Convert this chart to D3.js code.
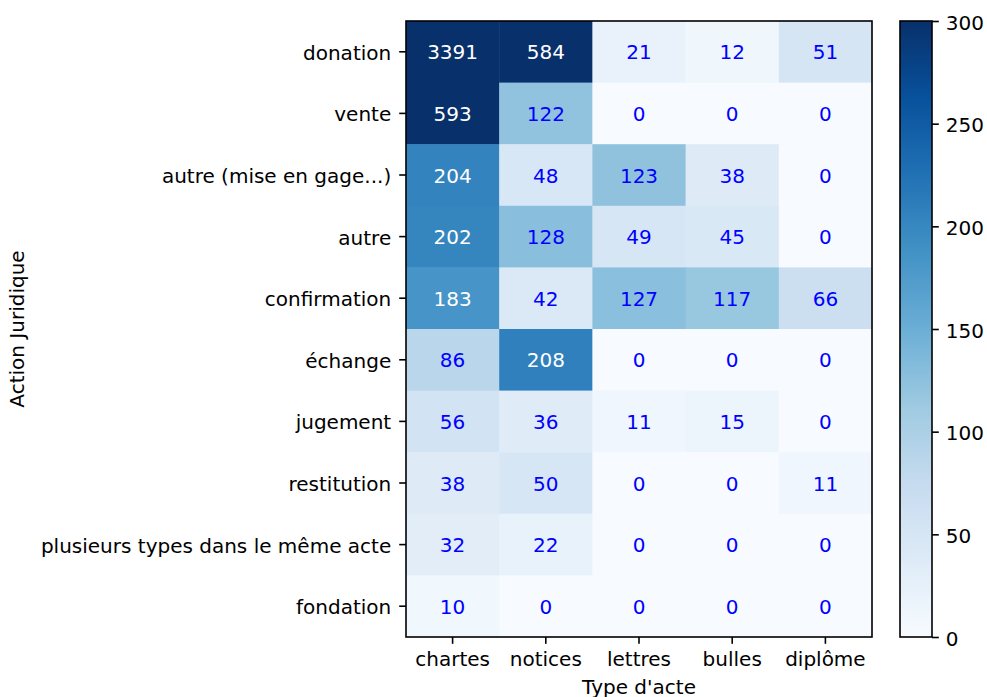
<!DOCTYPE html>
<html>
<head>
<meta charset="utf-8">
<script src="https://cdn.jsdelivr.net/npm/d3@7"></script>
<style>
  body { margin: 0; background: #fff; }
  svg { font-family: "DejaVu Sans", sans-serif; }
</style>
</head>
<body>
<svg id="chart" width="987" height="697"></svg>
<script>
const rows = ["donation", "vente", "autre (mise en gage...)", "autre", "confirmation",
  "échange", "jugement", "restitution", "plusieurs types dans le même acte", "fondation"];
const cols = ["chartes", "notices", "lettres", "bulles", "diplôme"];
const values = [
  [3391, 584, 21, 12, 51],
  [593, 122, 0, 0, 0],
  [204, 48, 123, 38, 0],
  [202, 128, 49, 45, 0],
  [183, 42, 127, 117, 66],
  [86, 208, 0, 0, 0],
  [56, 36, 11, 15, 0],
  [38, 50, 0, 0, 11],
  [32, 22, 0, 0, 0],
  [10, 0, 0, 0, 0]
];
const cbTicks = [0, 50, 100, 150, 200, 250, 300];

const svg = d3.select("#chart");
const fs = 20;
const plotL = 406, plotT = 21, plotR = 872, plotB = 637;

// matplotlib Blues
const blues = ["#f7fbff", "#deebf7", "#c6dbef", "#9ecae1", "#6baed6", "#4292c6", "#2171b5", "#08519c", "#08306b"];
const color = d3.scaleLinear()
  .domain(d3.range(9).map(i => i * 300 / 8))
  .range(blues)
  .interpolate(d3.interpolateRgb)
  .clamp(true);

const x = d3.scaleBand().domain(cols).range([plotL, plotR]);
const y = d3.scaleBand().domain(rows).range([plotT, plotB]);

const cells = [];
values.forEach((r, i) => r.forEach((v, j) => cells.push({ row: rows[i], col: cols[j], v })));

svg.append("g").selectAll("rect").data(cells).enter().append("rect")
  .attr("x", d => x(d.col))
  .attr("y", d => y(d.row))
  .attr("width", x.bandwidth() + 0.5)
  .attr("height", y.bandwidth() + 0.5)
  .attr("fill", d => color(d.v));

svg.append("g").selectAll("text").data(cells).enter().append("text")
  .attr("x", d => x(d.col) + x.bandwidth() / 2)
  .attr("y", d => y(d.row) + y.bandwidth() / 2)
  .attr("dy", "0.38em")
  .attr("text-anchor", "middle")
  .attr("font-size", fs)
  .attr("fill", d => d.v > 150 ? "#ffffff" : "#0000ff")
  .text(d => d.v);

function styleAxis(g) {
  g.select(".domain").remove();
  g.selectAll(".tick line").attr("stroke", "#000").attr("stroke-width", 1.6);
  g.selectAll(".tick text").attr("font-size", fs).attr("fill", "#000")
    .attr("font-family", "DejaVu Sans");
}

svg.append("g")
  .attr("transform", `translate(0,${plotB})`)
  .call(d3.axisBottom(x).tickSize(6.8).tickPadding(8))
  .call(styleAxis);

svg.append("g")
  .attr("transform", `translate(${plotL},0)`)
  .call(d3.axisLeft(y).tickSize(6.8).tickPadding(8))
  .call(styleAxis)
  .selectAll(".tick text").attr("dy", "0.4em");

svg.append("rect")
  .attr("x", plotL).attr("y", plotT)
  .attr("width", plotR - plotL).attr("height", plotB - plotT)
  .attr("fill", "none").attr("stroke", "#000").attr("stroke-width", 1.6);

svg.append("text")
  .attr("x", (plotL + plotR) / 2).attr("y", 694)
  .attr("text-anchor", "middle").attr("font-size", fs)
  .text("Type d'acte");

svg.append("text")
  .attr("transform", `translate(24,${(plotT + plotB) / 2}) rotate(-90)`)
  .attr("text-anchor", "middle").attr("font-size", fs)
  .text("Action Juridique");

// colorbar
const cbLeft = 900, cbRight = 932;
const cbScale = d3.scaleLinear().domain([0, 300]).range([plotB, plotT]);
const defs = svg.append("defs");
const grad = defs.append("linearGradient").attr("id", "cbgrad")
  .attr("x1", 0).attr("y1", 1).attr("x2", 0).attr("y2", 0);
grad.selectAll("stop").data(blues).enter().append("stop")
  .attr("offset", (d, i) => i / 8)
  .attr("stop-color", d => d);

svg.append("rect")
  .attr("x", cbLeft).attr("y", plotT)
  .attr("width", cbRight - cbLeft).attr("height", plotB - plotT)
  .attr("fill", "url(#cbgrad)");

svg.append("g")
  .attr("transform", `translate(${cbRight},0)`)
  .call(d3.axisRight(cbScale).tickValues(cbTicks).tickSize(6.8).tickPadding(7))
  .call(styleAxis)
  .selectAll(".tick text").attr("dy", "0.4em");

svg.append("rect")
  .attr("x", cbLeft).attr("y", plotT)
  .attr("width", cbRight - cbLeft).attr("height", plotB - plotT)
  .attr("fill", "none").attr("stroke", "#000").attr("stroke-width", 1.6);
</script>
</body>
</html>
